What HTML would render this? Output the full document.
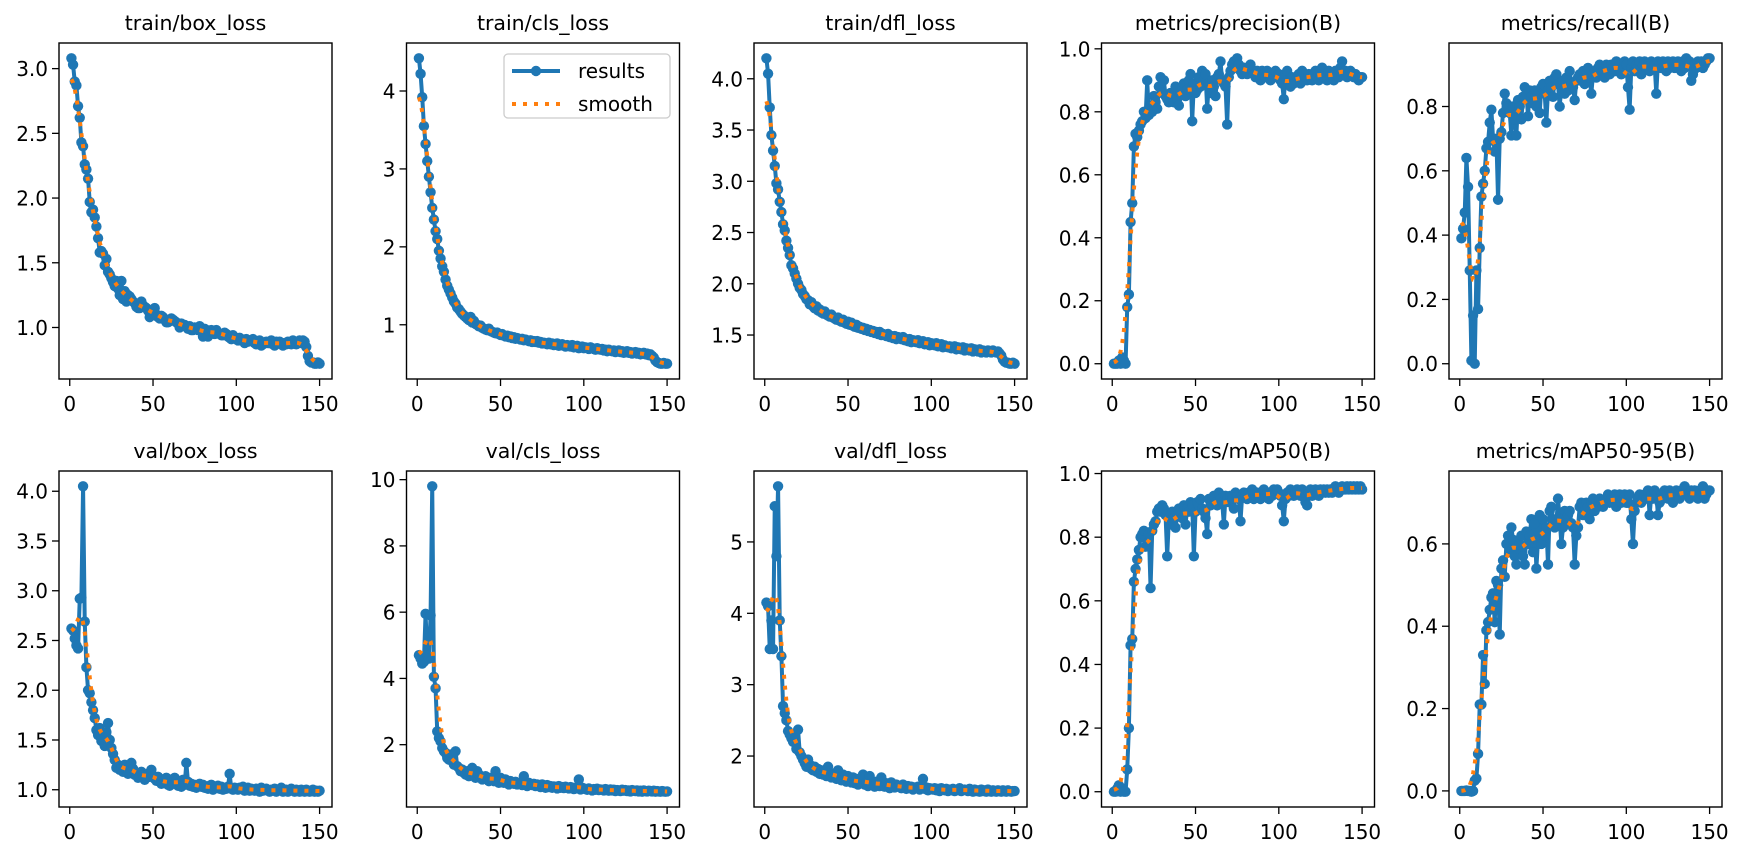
<!DOCTYPE html>
<html><head><meta charset="utf-8">
<style>
html,body{margin:0;padding:0;background:#fff;}
svg text{font-family:"DejaVu Sans","Liberation Sans",sans-serif;fill:#000;}
</style></head>
<body>
<svg id="fig" width="1739" height="849" viewBox="0 0 1739 849" xmlns="http://www.w3.org/2000/svg">
<rect width="1739" height="849" fill="#fff"/>
</svg>
<script>
const epochs = []; for (let i = 1; i <= 150; i++) epochs.push(i);
const xTicks = [0, 50, 100, 150];
const xTickLabels = ["0", "50", "100", "150"];

const titles = ["train/box_loss","train/cls_loss","train/dfl_loss","metrics/precision(B)","metrics/recall(B)",
"val/box_loss","val/cls_loss","val/dfl_loss","metrics/mAP50(B)","metrics/mAP50-95(B)"];

const trainBox = [3.08,3.03,2.90,2.87,2.71,2.62,2.43,2.40,2.26,2.22,
2.15,1.97,1.89,1.91,1.85,1.78,1.69,1.58,1.59,1.57,
1.48,1.53,1.43,1.41,1.38,1.35,1.32,1.36,1.30,1.25,
1.36,1.22,1.28,1.20,1.25,1.24,1.22,1.20,1.19,1.16,
1.15,1.15,1.20,1.17,1.16,1.15,1.13,1.08,1.13,1.11,
1.15,1.10,1.08,1.07,1.09,1.08,1.06,1.04,1.04,1.05,
1.07,1.06,1.05,1.04,1.03,1.00,1.03,1.02,1.02,1.01,
0.99,1.01,0.98,0.98,1.00,0.99,0.98,1.01,0.97,0.93,
0.99,0.98,0.93,0.97,0.98,0.96,0.95,0.98,0.96,0.95,
0.94,0.94,0.96,0.95,0.93,0.92,0.91,0.94,0.92,0.91,
0.90,0.92,0.90,0.90,0.88,0.91,0.89,0.90,0.90,0.91,
0.88,0.87,0.89,0.90,0.86,0.87,0.88,0.89,0.88,0.88,
0.90,0.87,0.86,0.89,0.88,0.89,0.87,0.86,0.88,0.87,
0.89,0.88,0.87,0.90,0.88,0.87,0.89,0.90,0.88,0.90,
0.89,0.85,0.78,0.74,0.73,0.73,0.72,0.72,0.73,0.72];
const trainCls = [4.42,4.22,3.92,3.55,3.32,3.10,2.90,2.70,2.50,2.35,
2.20,2.10,1.95,1.85,1.75,1.68,1.58,1.50,1.45,1.40,
1.35,1.30,1.27,1.22,1.20,1.17,1.14,1.12,1.10,1.08,
1.06,1.10,1.03,1.05,1.01,1.00,0.98,0.99,0.96,0.95,
0.94,0.93,0.95,0.92,0.91,0.90,0.89,0.90,0.88,0.87,
0.88,0.86,0.85,0.86,0.84,0.85,0.83,0.84,0.82,0.83,
0.82,0.81,0.82,0.80,0.81,0.80,0.79,0.80,0.78,0.79,
0.78,0.79,0.77,0.78,0.76,0.77,0.76,0.75,0.77,0.75,
0.76,0.74,0.75,0.76,0.73,0.74,0.75,0.73,0.72,0.74,
0.73,0.72,0.74,0.71,0.72,0.73,0.70,0.71,0.72,0.70,
0.71,0.70,0.69,0.71,0.70,0.69,0.68,0.70,0.69,0.68,
0.69,0.67,0.68,0.66,0.68,0.67,0.66,0.67,0.65,0.66,
0.67,0.65,0.66,0.64,0.65,0.66,0.64,0.65,0.63,0.64,
0.65,0.63,0.64,0.62,0.63,0.64,0.62,0.63,0.61,0.62,
0.60,0.58,0.54,0.52,0.51,0.50,0.50,0.51,0.50,0.50];
const trainDfl = [4.20,4.05,3.72,3.45,3.30,3.15,2.98,2.92,2.80,2.70,
2.58,2.52,2.42,2.35,2.28,2.18,2.15,2.10,2.05,2.00,
1.96,1.94,1.90,1.88,1.85,1.84,1.80,1.82,1.78,1.76,
1.78,1.74,1.75,1.72,1.71,1.73,1.70,1.69,1.68,1.70,
1.67,1.66,1.65,1.67,1.64,1.63,1.65,1.62,1.61,1.63,
1.60,1.62,1.59,1.58,1.60,1.57,1.58,1.56,1.57,1.55,
1.56,1.54,1.55,1.53,1.54,1.52,1.53,1.51,1.53,1.50,
1.51,1.50,1.49,1.51,1.48,1.49,1.47,1.49,1.46,1.48,
1.47,1.46,1.48,1.45,1.46,1.44,1.46,1.43,1.45,1.44,
1.43,1.45,1.42,1.43,1.44,1.41,1.42,1.43,1.40,1.42,
1.41,1.40,1.42,1.39,1.40,1.41,1.38,1.40,1.39,1.38,
1.39,1.37,1.38,1.39,1.36,1.38,1.37,1.36,1.38,1.35,
1.37,1.36,1.35,1.37,1.34,1.36,1.35,1.34,1.36,1.33,
1.35,1.34,1.33,1.35,1.34,1.33,1.35,1.34,1.33,1.34,
1.32,1.30,1.26,1.24,1.23,1.23,1.22,1.22,1.23,1.22];
const precision = [0,0,0,0.01,0,0.02,0.01,0,0.18,0.22,
0.45,0.51,0.69,0.73,0.72,0.74,0.76,0.77,0.80,0.78,
0.90,0.79,0.82,0.80,0.85,0.83,0.81,0.88,0.91,0.86,
0.90,0.85,0.84,0.83,0.86,0.85,0.83,0.88,0.84,0.82,
0.86,0.88,0.89,0.85,0.87,0.90,0.92,0.77,0.89,0.86,
0.87,0.91,0.88,0.93,0.90,0.92,0.81,0.89,0.86,0.90,
0.88,0.85,0.91,0.92,0.96,0.90,0.89,0.88,0.76,0.91,
0.93,0.95,0.96,0.94,0.97,0.95,0.93,0.92,0.94,0.93,
0.92,0.94,0.95,0.93,0.92,0.91,0.93,0.92,0.90,0.93,
0.92,0.91,0.93,0.92,0.90,0.91,0.92,0.93,0.91,0.92,
0.90,0.89,0.84,0.92,0.93,0.89,0.88,0.91,0.89,0.90,
0.91,0.92,0.89,0.93,0.90,0.91,0.90,0.92,0.91,0.90,
0.92,0.93,0.91,0.90,0.92,0.94,0.91,0.92,0.90,0.93,
0.91,0.92,0.90,0.93,0.92,0.91,0.94,0.96,0.92,0.93,
0.91,0.92,0.93,0.92,0.91,0.92,0.91,0.90,0.91,0.91];
const recall = [0.39,0.42,0.47,0.64,0.55,0.29,0.01,0.15,0.00,0.29,
0.17,0.36,0.52,0.56,0.60,0.67,0.69,0.75,0.79,0.70,
0.66,0.70,0.51,0.70,0.72,0.78,0.84,0.81,0.80,0.78,
0.71,0.80,0.76,0.71,0.82,0.80,0.76,0.83,0.86,0.84,
0.77,0.85,0.83,0.81,0.85,0.80,0.84,0.78,0.86,0.87,
0.84,0.75,0.85,0.88,0.86,0.83,0.89,0.90,0.87,0.80,
0.86,0.88,0.84,0.89,0.85,0.91,0.87,0.86,0.82,0.88,
0.89,0.90,0.88,0.91,0.87,0.90,0.92,0.89,0.84,0.90,
0.91,0.89,0.92,0.93,0.90,0.91,0.89,0.93,0.92,0.90,
0.93,0.92,0.91,0.94,0.92,0.93,0.90,0.92,0.94,0.93,
0.86,0.79,0.92,0.94,0.91,0.93,0.92,0.94,0.90,0.93,
0.94,0.92,0.93,0.91,0.94,0.92,0.93,0.84,0.94,0.93,
0.92,0.94,0.93,0.91,0.94,0.92,0.93,0.94,0.92,0.93,
0.94,0.93,0.91,0.94,0.92,0.95,0.93,0.94,0.88,0.90,
0.93,0.92,0.94,0.93,0.94,0.92,0.93,0.94,0.95,0.95];
const valBox = [2.62,2.60,2.52,2.45,2.42,2.92,2.93,4.05,2.69,2.23,
2.00,1.97,1.88,1.80,1.72,1.60,1.55,1.62,1.49,1.53,
1.44,1.58,1.67,1.50,1.42,1.36,1.30,1.22,1.25,1.20,
1.22,1.18,1.25,1.20,1.16,1.24,1.27,1.21,1.15,1.17,
1.12,1.14,1.18,1.15,1.10,1.12,1.16,1.13,1.20,1.14,
1.11,1.09,1.13,1.08,1.06,1.07,1.10,1.12,1.05,1.04,
1.08,1.06,1.12,1.09,1.04,1.07,1.03,1.10,1.05,1.27,
1.08,1.04,1.06,1.03,1.05,1.02,1.04,1.06,1.03,1.05,
1.02,1.03,1.01,1.04,1.05,1.00,1.02,1.03,1.04,1.01,
1.03,1.00,1.02,1.01,1.03,1.16,1.01,1.00,1.02,1.01,
1.00,1.02,1.01,1.03,0.99,1.00,1.02,0.99,1.01,1.00,
0.99,1.01,1.00,0.98,1.02,0.99,1.00,1.01,0.99,0.98,
1.00,0.99,1.01,0.98,0.99,1.00,1.02,0.98,0.99,1.00,
0.98,0.99,1.01,0.99,0.98,1.00,0.99,0.98,1.00,0.99,
0.98,1.00,0.99,0.98,0.99,1.00,0.98,0.99,0.98,0.99];
const valCls = [4.70,4.60,4.45,4.50,5.95,4.70,4.60,5.90,9.80,4.05,
3.70,2.40,2.20,2.10,1.90,1.80,1.75,1.60,1.55,1.70,
1.50,1.40,1.80,1.35,1.30,1.20,1.25,1.15,1.10,1.20,
1.05,1.15,1.30,1.10,1.00,1.20,1.10,1.05,0.95,1.00,
1.05,0.95,0.90,1.00,0.95,0.90,1.20,0.95,0.85,1.00,
0.90,0.85,0.95,0.88,0.80,0.90,0.85,0.82,0.88,0.80,
0.85,0.82,0.78,1.05,0.80,0.75,0.85,0.80,0.78,0.82,
0.75,0.80,0.78,0.72,0.80,0.76,0.70,0.78,0.72,0.75,
0.70,0.74,0.72,0.68,0.75,0.70,0.72,0.69,0.73,0.70,
0.68,0.72,0.70,0.66,0.70,0.68,0.95,0.65,0.70,0.68,
0.66,0.64,0.68,0.65,0.62,0.66,0.64,0.67,0.63,0.65,
0.64,0.62,0.66,0.63,0.61,0.65,0.62,0.64,0.60,0.63,
0.62,0.60,0.64,0.61,0.63,0.60,0.62,0.59,0.63,0.61,
0.60,0.62,0.59,0.61,0.58,0.62,0.60,0.59,0.61,0.60,
0.59,0.61,0.58,0.60,0.59,0.58,0.60,0.59,0.58,0.59];
const valDfl = [4.15,4.10,3.50,3.90,3.50,5.50,4.80,5.78,3.90,3.40,
2.70,2.60,2.50,2.35,2.30,2.25,2.20,2.30,2.10,2.37,
2.05,2.00,1.95,1.90,1.85,1.95,1.88,1.82,1.80,1.85,
1.78,1.82,1.75,1.80,1.74,1.78,1.72,1.85,1.76,1.70,
1.75,1.72,1.68,1.80,1.70,1.66,1.74,1.68,1.64,1.72,
1.66,1.63,1.70,1.62,1.68,1.60,1.65,1.62,1.74,1.60,
1.63,1.58,1.72,1.60,1.62,1.57,1.64,1.60,1.58,1.70,
1.60,1.57,1.62,1.58,1.55,1.63,1.58,1.56,1.60,1.57,
1.58,1.55,1.60,1.56,1.54,1.58,1.55,1.57,1.53,1.56,
1.55,1.57,1.53,1.56,1.68,1.54,1.56,1.52,1.55,1.54,
1.53,1.55,1.52,1.54,1.51,1.55,1.53,1.52,1.54,1.51,
1.53,1.52,1.54,1.51,1.53,1.52,1.55,1.51,1.52,1.53,
1.52,1.51,1.54,1.52,1.50,1.53,1.51,1.52,1.50,1.53,
1.51,1.52,1.50,1.53,1.51,1.50,1.52,1.51,1.50,1.52,
1.51,1.50,1.52,1.51,1.50,1.52,1.51,1.50,1.51,1.51];
const map50 = [0,0,0.01,0.02,0,0.01,0,0,0.07,0.20,
0.46,0.48,0.66,0.70,0.73,0.76,0.80,0.81,0.82,0.77,
0.78,0.81,0.64,0.82,0.84,0.85,0.88,0.89,0.88,0.90,
0.89,0.87,0.74,0.86,0.84,0.88,0.86,0.83,0.87,0.89,
0.88,0.86,0.90,0.84,0.89,0.88,0.91,0.90,0.74,0.88,
0.91,0.90,0.92,0.89,0.88,0.86,0.81,0.92,0.90,0.92,
0.93,0.91,0.90,0.94,0.92,0.91,0.84,0.93,0.92,0.91,
0.93,0.92,0.89,0.94,0.93,0.92,0.85,0.93,0.94,0.93,
0.92,0.94,0.93,0.95,0.92,0.93,0.94,0.93,0.92,0.94,
0.95,0.93,0.94,0.92,0.94,0.93,0.95,0.94,0.95,0.94,
0.93,0.90,0.85,0.92,0.94,0.93,0.95,0.94,0.93,0.94,
0.95,0.94,0.93,0.95,0.94,0.91,0.90,0.94,0.95,0.93,
0.94,0.95,0.94,0.93,0.95,0.94,0.95,0.94,0.95,0.94,
0.95,0.94,0.95,0.96,0.95,0.94,0.95,0.96,0.95,0.95,
0.96,0.95,0.96,0.95,0.96,0.95,0.96,0.95,0.96,0.95];
const map5095 = [0,0,0,0.001,0,0,-0.002,0,0.025,0.03,
0.09,0.21,0.21,0.33,0.26,0.39,0.41,0.44,0.47,0.48,
0.41,0.51,0.50,0.38,0.54,0.56,0.52,0.60,0.62,0.58,
0.64,0.61,0.57,0.55,0.59,0.60,0.62,0.57,0.55,0.63,
0.60,0.62,0.66,0.58,0.65,0.54,0.61,0.67,0.60,0.66,
0.62,0.64,0.55,0.68,0.69,0.66,0.64,0.65,0.71,0.66,
0.60,0.64,0.68,0.66,0.67,0.68,0.65,0.64,0.55,0.62,
0.64,0.69,0.70,0.67,0.68,0.70,0.69,0.66,0.70,0.71,
0.68,0.70,0.69,0.71,0.70,0.69,0.70,0.71,0.72,0.70,
0.71,0.70,0.72,0.69,0.71,0.72,0.70,0.71,0.72,0.70,
0.70,0.72,0.66,0.60,0.68,0.70,0.71,0.72,0.70,0.71,
0.72,0.71,0.73,0.67,0.72,0.71,0.73,0.72,0.67,0.70,
0.72,0.71,0.73,0.72,0.71,0.73,0.72,0.70,0.72,0.73,
0.72,0.71,0.73,0.72,0.74,0.73,0.72,0.71,0.73,0.72,
0.73,0.72,0.71,0.73,0.72,0.74,0.71,0.72,0.73,0.73];

const yTicks1 = [1.0,1.5,2.0,2.5,3.0], yLabels1 = ["1.0","1.5","2.0","2.5","3.0"];
const yTicks2 = [1,2,3,4], yLabels2 = ["1","2","3","4"];
const yTicks3 = [1.5,2.0,2.5,3.0,3.5,4.0], yLabels3 = ["1.5","2.0","2.5","3.0","3.5","4.0"];
const yTicks4 = [0,0.2,0.4,0.6,0.8,1.0], yLabels4 = ["0.0","0.2","0.4","0.6","0.8","1.0"];
const yTicks5 = [0,0.2,0.4,0.6,0.8], yLabels5 = ["0.0","0.2","0.4","0.6","0.8"];
const yTicks6 = [1.0,1.5,2.0,2.5,3.0,3.5,4.0], yLabels6 = ["1.0","1.5","2.0","2.5","3.0","3.5","4.0"];
const yTicks7 = [2,4,6,8,10], yLabels7 = ["2","4","6","8","10"];
const yTicks8 = [2,3,4,5], yLabels8 = ["2","3","4","5"];
const yTicks9 = [0,0.2,0.4,0.6,0.8,1.0], yLabels9 = ["0.0","0.2","0.4","0.6","0.8","1.0"];
const yTicks10 = [0,0.2,0.4,0.6], yLabels10 = ["0.0","0.2","0.4","0.6"];

const series = [trainBox,trainCls,trainDfl,precision,recall,valBox,valCls,valDfl,map50,map5095];
const yTickSets = [yTicks1,yTicks2,yTicks3,yTicks4,yTicks5,yTicks6,yTicks7,yTicks8,yTicks9,yTicks10];
const yLabelSets = [yLabels1,yLabels2,yLabels3,yLabels4,yLabels5,yLabels6,yLabels7,yLabels8,yLabels9,yLabels10];
const panelNames = ["train-box-loss","train-cls-loss","train-dfl-loss","precision","recall","val-box-loss","val-cls-loss","val-dfl-loss","map50","map50-95"];

const NS = "http://www.w3.org/2000/svg";
const svg = document.getElementById("fig");
function mk(tag, attrs, parent){ const e=document.createElementNS(NS,tag); for(const k in attrs) e.setAttribute(k,attrs[k]); (parent||svg).appendChild(e); return e; }

function gaussSmooth(y, sigma){
  const r = Math.round(4*sigma), w=[]; let s=0;
  for(let k=-r;k<=r;k++){ const v=Math.exp(-0.5*k*k/(sigma*sigma)); w.push(v); s+=v; }
  const n=y.length, out=[];
  for(let i=0;i<n;i++){ let a=0;
    for(let k=-r;k<=r;k++){ let j=i+k; if(j<0) j=-j-1; if(j>=n) j=2*n-j-1; a+=w[k+r]*y[j]; }
    out.push(a/s); }
  return out;
}

const colLeft = [59, 406.5, 754, 1101.5, 1449], rowTop = [43, 471];
const AW = 273, AH = 336;
const MR = 5.2, LW = 4;

series.forEach((ys, p) => {
  const L = colLeft[p%5], T = rowTop[Math.floor(p/5)], R = L+AW, B = T+AH;
  const g = mk("g", {});
  
  
  const xmin = Math.min(...epochs), xmax = Math.max(...epochs), xr = xmax-xmin;
  const x0 = xmin-0.05*xr, x1 = xmax+0.05*xr;
  const ymin = Math.min(...ys), ymax = Math.max(...ys), yr = ymax-ymin;
  const y0 = ymin-0.05*yr, y1 = ymax+0.05*yr;
  const X = v => L + (v-x0)/(x1-x0)*AW;
  const Y = v => B - (v-y0)/(y1-y0)*AH;

  const t = mk("text", {x:(L+R)/2, y:T-13, "text-anchor":"middle", "font-size":"20.5"}, g);
  t.textContent = titles[p];
  
  

  xTicks.forEach((v,i) => {
    const tk = mk("line", {x1:X(v), x2:X(v), y1:B, y2:B+7, stroke:"#000", "stroke-width":"1.3"}, g);
    
    
    const tl = mk("text", {x:X(v), y:B+32, "text-anchor":"middle", "font-size":"20"}, g);
    tl.textContent = xTickLabels[i];
    
    
  });
  yTickSets[p].forEach((v,i) => {
    const tk = mk("line", {x1:L-7, x2:L, y1:Y(v), y2:Y(v), stroke:"#000", "stroke-width":"1.3"}, g);
    
    
    const tl = mk("text", {x:L-11, y:Y(v)+7.5, "text-anchor":"end", "font-size":"20"}, g);
    tl.textContent = yLabelSets[p][i];
    
    
  });

  let d = "";
  ys.forEach((v,i) => { d += (i?"L":"M") + X(epochs[i]).toFixed(2) + "," + Y(v).toFixed(2); });
  const line = mk("path", {d, fill:"none", stroke:"#1f77b4", "stroke-width":LW, "stroke-linejoin":"round"}, g);
  
  
  ys.forEach((v,i) => {
    const c = mk("circle", {cx:X(epochs[i]), cy:Y(v), r:MR, fill:"#1f77b4"}, g);
    
    
  });
  const sm = gaussSmooth(ys, 3);
  let d2 = "";
  sm.forEach((v,i) => { d2 += (i?"L":"M") + X(epochs[i]).toFixed(2) + "," + Y(v).toFixed(2); });
  const sl = mk("path", {d:d2, fill:"none", stroke:"#ff7f0e", "stroke-width":"4", "stroke-dasharray":"4 7"}, g);
  
  

  const fr = mk("rect", {x:L, y:T, width:AW, height:AH, fill:"none", stroke:"#000", "stroke-width":"1.4"}, g);
  
  

  if (p === 1) {
    const lg = mk("g", {}, g);
    
    
    mk("rect", {x:504, y:54, width:166, height:64, rx:4, fill:"#fff", "fill-opacity":"0.8", stroke:"#ccc", "stroke-width":"1.3"}, lg);
    const e1 = mk("g", {}, lg);
    
    
    mk("line", {x1:512, x2:560, y1:71, y2:71, stroke:"#1f77b4", "stroke-width":LW}, e1);
    mk("circle", {cx:536, cy:71, r:MR, fill:"#1f77b4"}, e1);
    const l1 = mk("text", {x:578, y:78, "font-size":"20"}, e1); l1.textContent = "results";
    const e2 = mk("g", {}, lg);
    
    
    mk("line", {x1:512, x2:560, y1:104, y2:104, stroke:"#ff7f0e", "stroke-width":"4", "stroke-dasharray":"4 7"}, e2);
    const l2 = mk("text", {x:578, y:111, "font-size":"20"}, e2); l2.textContent = "smooth";
  }
});
</script>
</body></html>
